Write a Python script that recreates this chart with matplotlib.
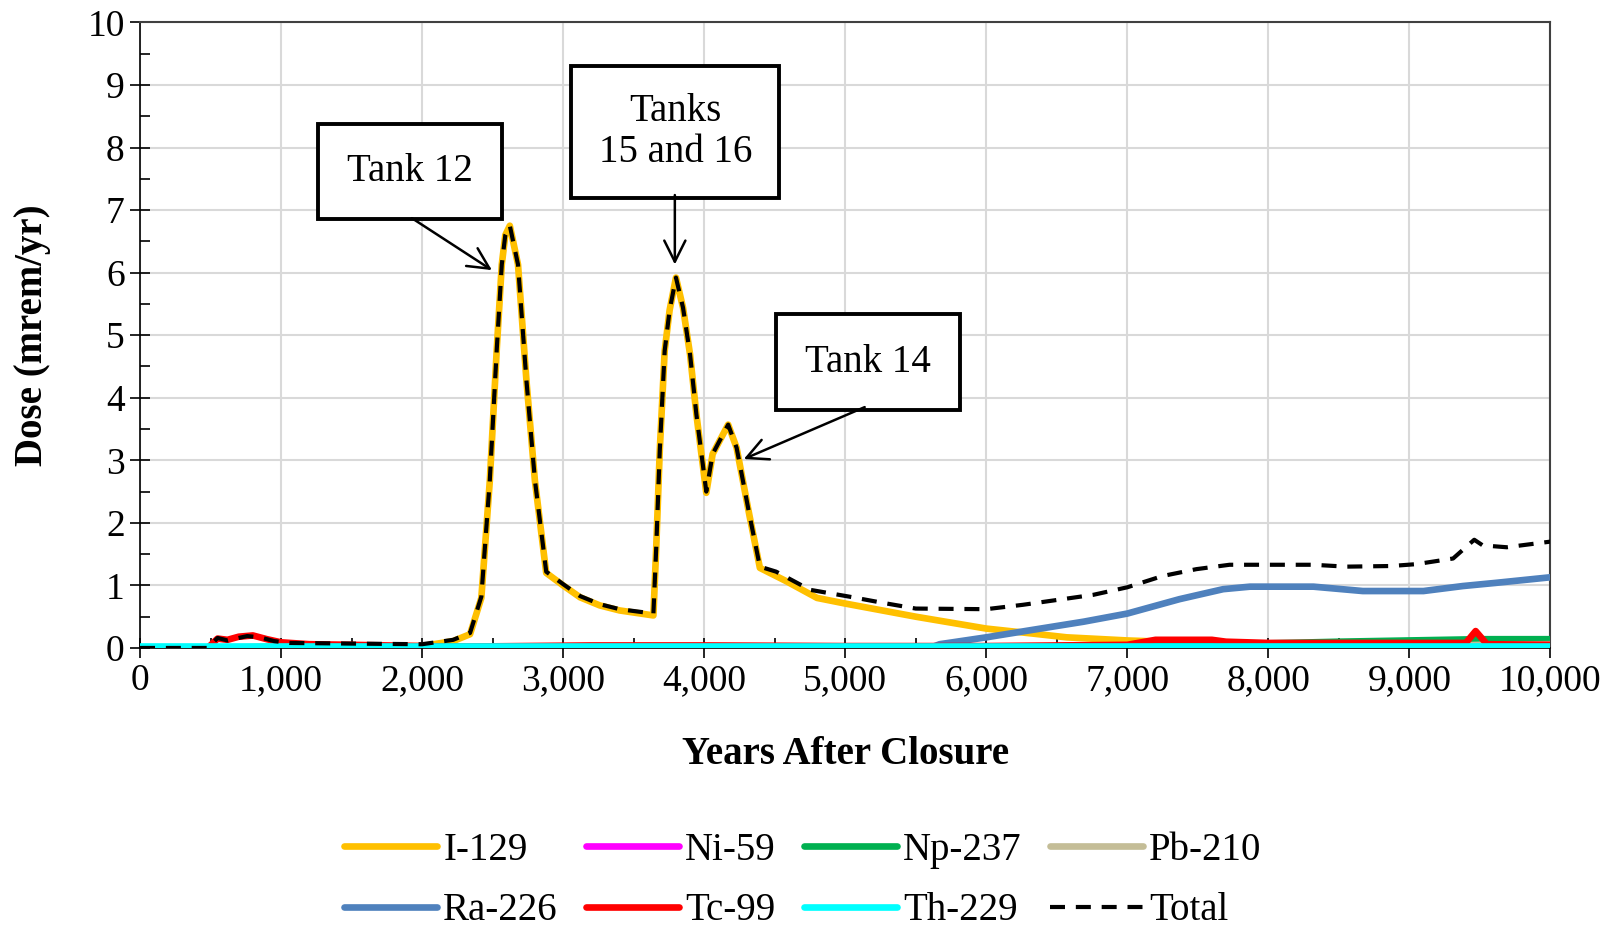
import numpy as np
import matplotlib
matplotlib.use("Agg")
import matplotlib.pyplot as plt
from matplotlib.ticker import MultipleLocator, FuncFormatter

plt.rcParams['font.family'] = ['Liberation Serif', 'DejaVu Serif']

# I-129
i129_x = [0, 2000, 2220, 2340, 2420, 2480, 2530, 2565, 2590, 2622, 2680, 2740, 2800, 2880,
          3000, 3120, 3260, 3400, 3640, 3660, 3685, 3720, 3755, 3800, 3850, 3900, 3945,
          4015, 4060, 4170, 4230, 4320, 4395, 4580, 4800, 5000, 5500, 6000, 6330, 6570,
          7000, 7500, 8000, 10000]
i129_y = [0, 0.03, 0.11, 0.22, 0.8, 2.67, 4.8, 6.13, 6.6, 6.75, 6.13, 4.27, 2.67, 1.2,
          1.0, 0.81, 0.68, 0.6, 0.52, 1.6, 3.15, 4.75, 5.4, 5.92, 5.44, 4.69, 3.73,
          2.48, 3.1, 3.57, 3.2, 2.13, 1.28, 1.07, 0.8, 0.71, 0.5, 0.31, 0.23, 0.17,
          0.12, 0.08, 0.05, 0.02]

# Ni-59
ni59_x = [0, 10000]
ni59_y = [0, 0]

# Np-237
np237_x = [0, 500, 1000, 2000, 3000, 5000, 7000, 8500, 9000, 9500, 10000]
np237_y = [0, 0, 0.02, 0.02, 0.01, 0.01, 0.02, 0.1, 0.12, 0.14, 0.14]

# Pb-210
pb210_x = [0, 8000, 9000, 9500, 10000]
pb210_y = [0, 0, 0.02, 0.05, 0.06]

# Ra-226
ra226_x = [0, 5600, 5670, 6000, 6330, 6690, 7000, 7370, 7680, 7870, 8320, 8670, 9100,
           9380, 9610, 10000]
ra226_y = [0, 0, 0.06, 0.17, 0.29, 0.42, 0.55, 0.78, 0.94, 0.98, 0.98, 0.91, 0.91,
           0.99, 1.04, 1.13]

# Tc-99
tc99_x = [0, 480, 550, 620, 700, 800, 900, 1000, 1200, 1500, 2000, 2200, 3200, 4000,
          5000, 6000, 7000, 7200, 7600, 7700, 8000, 8500, 9000, 9400, 9470, 9550, 10000]
tc99_y = [0, 0, 0.15, 0.13, 0.18, 0.2, 0.14, 0.09, 0.06, 0.05, 0.03, 0.02, 0.04, 0.04,
          0.03, 0.03, 0.05, 0.13, 0.13, 0.1, 0.08, 0.08, 0.08, 0.08, 0.27, 0.06, 0.05]

# Th-229
th229_x = [0, 10000]
th229_y = [0.03, 0.03]

# Total
total_x = [0, 480, 550, 620, 760, 850, 950, 1060, 1500, 2000, 2220, 2340, 2420, 2480,
           2530, 2565, 2590, 2622, 2680, 2740, 2800, 2880, 3000, 3120, 3260, 3400, 3640,
           3660, 3685, 3720, 3755, 3800, 3850, 3900, 3945, 4015, 4060, 4170, 4230, 4320,
           4395, 4510, 4750, 5030, 5270, 5500, 6000, 6260, 6760, 7000, 7250, 7490, 7725,
           8000, 8320, 8550, 8870, 9050, 9310, 9460, 9520, 9690, 10000]
total_y = [0, 0, 0.16, 0.12, 0.19, 0.17, 0.11, 0.08, 0.07, 0.06, 0.13, 0.24, 0.82, 2.68,
           4.8, 6.13, 6.6, 6.75, 6.13, 4.27, 2.68, 1.22, 1.02, 0.83, 0.7, 0.62, 0.55,
           1.6, 3.15, 4.75, 5.4, 5.92, 5.44, 4.69, 3.73, 2.5, 3.1, 3.57, 3.2, 2.14,
           1.3, 1.22, 0.93, 0.82, 0.72, 0.63, 0.62, 0.69, 0.85, 0.97, 1.15, 1.26, 1.33,
           1.33, 1.33, 1.3, 1.31, 1.34, 1.43, 1.73, 1.64, 1.61, 1.70]

series = [
    ("I-129", i129_x, i129_y, "#FFC000"),
    ("Ni-59", ni59_x, ni59_y, "#FF00FF"),
    ("Np-237", np237_x, np237_y, "#00B050"),
    ("Pb-210", pb210_x, pb210_y, "#C4BD97"),
    ("Ra-226", ra226_x, ra226_y, "#4F81BD"),
    ("Tc-99", tc99_x, tc99_y, "#FF0000"),
    ("Th-229", th229_x, th229_y, "#00FFFF"),
]

fig = plt.figure(figsize=(16.15, 9.33), dpi=100)
ax = fig.add_axes([0.0867, 0.3055, 0.8733, 0.6705])

handles = {}
for name, xs, ys, col in series:
    h, = ax.plot(xs, ys, color=col, lw=4.8, label=name, solid_capstyle='round',
                 solid_joinstyle='round', zorder=3)
    handles[name] = h
h, = ax.plot(total_x, total_y, color='black', lw=3.0, ls=(0, (3.6, 2.6)), label='Total', zorder=4)
handles['Total'] = h

ax.set_xlim(0, 10000)
ax.set_ylim(0, 10)
ax.xaxis.set_major_locator(MultipleLocator(1000))
ax.xaxis.set_minor_locator(MultipleLocator(500))
ax.yaxis.set_major_locator(MultipleLocator(1))
ax.yaxis.set_minor_locator(MultipleLocator(0.5))
ax.xaxis.set_major_formatter(FuncFormatter(lambda v, p: f"{int(v):,}"))
ax.tick_params(which='major', direction='inout', length=14, width=1.2, labelsize=27, pad=4)
ax.tick_params(which='minor', direction='in', length=7, width=1.2)
ax.grid(True, which='major', color='#D9D9D9', lw=1.5, zorder=0)
ax.set_axisbelow(True)
for s in ['left', 'bottom']:
    ax.spines[s].set_color('black')
    ax.spines[s].set_linewidth(1.2)
for s in ['top', 'right']:
    ax.spines[s].set_color('#404040')
    ax.spines[s].set_linewidth(1.5)

ax.text(-0.076, 0.5, "Dose (mrem/yr)", transform=ax.transAxes, rotation=90,
        ha='center', va='center', fontsize=28, fontweight='bold')
ax.text(0.5, -0.17, "Years After Closure", transform=ax.transAxes,
        ha='center', va='center', fontsize=28, fontweight='bold')

# callouts
box = dict(boxstyle='square,pad=0.75', fc='white', ec='black', lw=2.8)
arrow = dict(arrowstyle='->', lw=1.8, color='black', mutation_scale=38, shrinkA=0, shrinkB=0)
ax.text(1913, 7.62, "Tank 12", ha='center', va='center', fontsize=28, bbox=box, zorder=6)
ax.annotate('', xy=(2495, 6.04), xytext=(1928, 6.87), arrowprops=arrow, zorder=6)
ax.text(3795, 8.25, "Tanks\n15 and 16", ha='center', va='center', fontsize=28,
        linespacing=1.12, bbox=dict(box, boxstyle='square,pad=0.7'), zorder=6)
ax.annotate('', xy=(3792, 6.13), xytext=(3792, 7.24), arrowprops=arrow, zorder=6)
ax.text(5160, 4.57, "Tank 14", ha='center', va='center', fontsize=28, bbox=box, zorder=6)
ax.annotate('', xy=(4281, 3.02), xytext=(5138, 3.85), arrowprops=arrow, zorder=6)

order = ["I-129", "Ra-226", "Ni-59", "Tc-99", "Np-237", "Th-229", "Pb-210", "Total"]
fig.legend([handles[n] for n in order], order, loc='center', bbox_to_anchor=(0.497, 0.056),
           ncol=4, frameon=False, fontsize=28, handlelength=2.4, handletextpad=0.15,
           columnspacing=0.72, labelspacing=0.6, borderpad=0.1)

fig.savefig("out.png", dpi=100)
